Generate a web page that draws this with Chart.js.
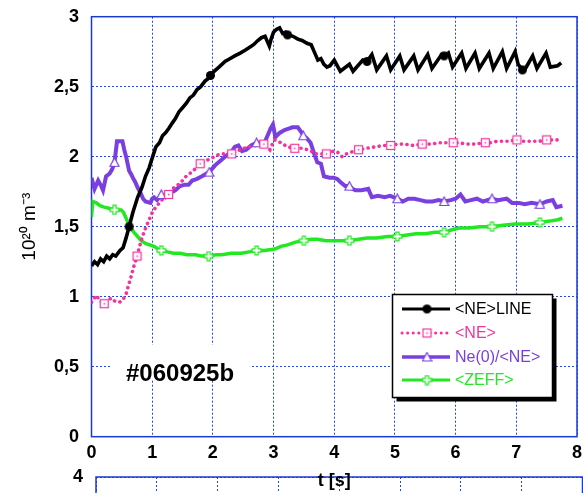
<!DOCTYPE html>
<html>
<head>
<meta charset="utf-8">
<script src="https://cdn.jsdelivr.net/npm/chart.js@4.4.1/dist/chart.umd.min.js"></script>
<style>
  html, body { margin: 0; padding: 0; background: #fff; }
  #wrap { position: relative; width: 583px; height: 493px; overflow: hidden; }
  #lower { position: absolute; left: 0; top: 460px; }
  #main { position: absolute; left: 0; top: 0; }
</style>
</head>
<body>
<div id="wrap">
  <canvas id="lower" width="583" height="120"></canvas>
  <canvas id="main" width="583" height="493"></canvas>
</div>
<script>
// --- data (time in s, density in 10^20 m^-3) ---
const neLineT = [0.00,0.05,0.10,0.15,0.20,0.25,0.30,0.35,0.40,0.47,0.52,0.57,0.62,0.68,0.76,0.83,0.89,0.95,1.00,1.06,
  1.12,1.17,1.22,1.27,1.33,1.38,1.44,1.50,1.56,1.62,1.68,1.74,1.80,1.87,1.93,1.96,2.02,2.10,2.20,2.28,
  2.36,2.45,2.53,2.60,2.67,2.74,2.80,2.86,2.90,2.93,2.96,3.00,3.05,3.10,3.15,3.20,3.25,3.32,3.40,3.47,
  3.55,3.62,3.68,3.73,3.78,3.83,3.88,3.93,4.00,4.10,4.25,4.31,4.47,4.54,4.62,4.70,4.86,4.93,5.08,5.15,
  5.31,5.38,5.54,5.61,5.77,5.82,5.88,5.95,6.10,6.17,6.32,6.39,6.55,6.62,6.77,6.84,6.98,7.03,7.10,7.15,
  7.27,7.34,7.49,7.56,7.68,7.74];
const neLineV = [1.22,1.25,1.23,1.27,1.25,1.29,1.27,1.30,1.29,1.33,1.35,1.42,1.50,1.60,1.71,1.78,1.86,1.92,1.99,2.07,
  2.10,2.15,2.17,2.20,2.24,2.27,2.32,2.35,2.38,2.42,2.44,2.48,2.50,2.54,2.56,2.58,2.61,2.64,2.68,2.70,
  2.72,2.74,2.76,2.78,2.80,2.83,2.85,2.86,2.82,2.79,2.84,2.89,2.91,2.92,2.88,2.89,2.87,2.86,2.84,2.83,
  2.81,2.80,2.74,2.69,2.70,2.66,2.64,2.65,2.69,2.61,2.66,2.61,2.69,2.68,2.73,2.62,2.72,2.62,2.72,2.62,
  2.72,2.62,2.73,2.63,2.73,2.72,2.74,2.64,2.74,2.63,2.74,2.63,2.74,2.63,2.75,2.63,2.75,2.66,2.62,2.63,
  2.72,2.63,2.74,2.64,2.65,2.67];
const neLineMarkT = [0.62, 1.96, 3.23, 4.54, 5.81, 7.10];
const neLineMarkV = [1.50, 2.58, 2.87, 2.68, 2.72, 2.62];

const neT = [0.00,0.08,0.14,0.21,0.27,0.32,0.38,0.46,0.52,0.57,0.61,0.65,0.70,0.75,0.80,0.84,0.90,0.95,1.00,1.06,
  1.12,1.20,1.27,1.36,1.46,1.56,1.68,1.79,1.88,1.98,2.06,2.15,2.31,2.45,2.58,2.72,2.84,2.90,2.94,2.98,
  3.02,3.12,3.23,3.35,3.46,3.56,3.62,3.67,3.78,3.87,3.99,4.06,4.13,4.20,4.26,4.40,4.53,4.67,4.80,4.93,
  5.05,5.16,5.30,5.45,5.60,5.73,5.85,5.96,6.06,6.16,6.32,6.49,6.58,6.68,6.85,7.01,7.12,7.25,7.38,7.50,
  7.62,7.74];
const neV = [0.96,1.01,0.97,0.95,0.97,0.99,0.97,0.96,0.98,1.02,1.08,1.14,1.22,1.29,1.37,1.43,1.50,1.55,1.60,1.64,
  1.67,1.71,1.73,1.78,1.81,1.86,1.90,1.95,1.97,1.99,2.01,2.02,2.02,2.05,2.07,2.08,2.09,2.07,2.05,2.09,
  2.12,2.10,2.07,2.06,2.06,2.05,2.04,2.02,2.02,2.02,2.04,2.03,2.00,2.02,2.03,2.05,2.06,2.07,2.08,2.08,
  2.09,2.09,2.08,2.09,2.09,2.10,2.10,2.10,2.10,2.09,2.09,2.10,2.10,2.11,2.11,2.12,2.11,2.11,2.11,2.12,
  2.12,2.12];
const neMarkT = [0.21,0.75,1.27,1.79,2.31,2.84,3.35,3.87,4.40,4.93,5.45,5.96,6.49,7.01,7.50];
const neMarkV = [0.95,1.29,1.73,1.95,2.02,2.09,2.06,2.02,2.05,2.08,2.09,2.10,2.10,2.12,2.12];

const peakT = [0.00,0.05,0.11,0.16,0.19,0.24,0.30,0.34,0.38,0.42,0.51,0.54,0.57,0.62,0.66,0.68,0.72,0.76,0.81,0.85,
  0.89,0.97,1.00,1.03,1.08,1.15,1.22,1.30,1.38,1.46,1.54,1.60,1.66,1.73,1.82,1.94,2.04,2.12,2.20,2.30,
  2.36,2.42,2.48,2.55,2.63,2.72,2.85,2.90,2.95,2.99,3.03,3.10,3.18,3.25,3.31,3.40,3.45,3.49,3.55,3.61,
  3.67,3.72,3.78,3.83,3.92,3.99,4.05,4.10,4.18,4.25,4.30,4.35,4.45,4.56,4.62,4.72,4.83,4.92,5.04,5.13,
  5.22,5.32,5.42,5.51,5.62,5.72,5.81,5.92,6.00,6.08,6.16,6.25,6.35,6.45,6.60,6.70,6.84,6.93,7.04,7.14,
  7.25,7.39,7.50,7.60,7.66,7.76];
const peakV = [1.85,1.77,1.83,1.79,1.76,1.86,1.88,1.91,1.96,2.11,2.11,2.05,2.00,1.90,1.87,1.85,1.82,1.78,1.74,1.70,
  1.68,1.67,1.70,1.71,1.69,1.73,1.71,1.74,1.76,1.79,1.80,1.80,1.83,1.84,1.86,1.89,1.94,1.97,2.00,2.03,
  2.07,2.08,2.04,2.05,2.08,2.10,2.10,2.15,2.20,2.23,2.14,2.17,2.19,2.20,2.21,2.21,2.18,2.15,2.13,2.10,
  2.02,1.96,1.95,1.86,1.85,1.85,1.84,1.82,1.79,1.79,1.77,1.76,1.76,1.77,1.71,1.72,1.71,1.72,1.70,1.68,
  1.70,1.70,1.69,1.68,1.68,1.69,1.68,1.69,1.70,1.73,1.68,1.69,1.70,1.68,1.70,1.69,1.70,1.67,1.67,1.66,
  1.67,1.66,1.68,1.69,1.64,1.65];
const peakMarkT = [0.38,1.15,1.94,2.72,3.49,4.25,5.04,5.81,6.60,7.39];
const peakMarkV = [1.96,1.73,1.89,2.10,2.15,1.79,1.70,1.68,1.70,1.66];

const zeffT = [0.00,0.02,0.08,0.14,0.21,0.30,0.38,0.49,0.53,0.57,0.61,0.65,0.70,0.76,0.82,0.89,0.96,1.03,1.10,1.16,
  1.25,1.35,1.46,1.57,1.71,1.82,1.93,2.05,2.15,2.30,2.47,2.60,2.72,2.85,3.02,3.12,3.23,3.36,3.50,3.62,
  3.72,3.86,4.02,4.14,4.25,4.40,4.54,4.70,4.88,5.04,5.20,5.35,5.50,5.66,5.81,5.95,6.06,6.22,6.40,6.60,
  6.78,6.98,7.20,7.39,7.55,7.68,7.76];
const zeffV = [1.57,1.68,1.67,1.65,1.64,1.63,1.62,1.62,1.60,1.56,1.52,1.49,1.46,1.43,1.40,1.38,1.37,1.36,1.34,1.33,
  1.32,1.31,1.31,1.30,1.30,1.29,1.29,1.30,1.30,1.31,1.31,1.32,1.33,1.33,1.34,1.36,1.37,1.39,1.40,1.41,
  1.41,1.40,1.40,1.40,1.40,1.41,1.42,1.42,1.43,1.43,1.44,1.45,1.45,1.46,1.46,1.48,1.49,1.49,1.50,1.50,
  1.51,1.52,1.52,1.53,1.54,1.55,1.56];
const zeffMarkT = [0.38,1.15,1.93,2.72,3.50,4.25,5.04,5.81,6.60,7.39];
const zeffMarkV = [1.62,1.33,1.29,1.33,1.40,1.40,1.43,1.46,1.50,1.53];

const seriesNames = ['<NE>LINE', '<NE>', 'Ne(0)/<NE>', '<ZEFF>'];
const seriesColors = ['#000000', '#f2359b', '#7a3fe0', '#22e822'];
const shotLabel = '#060925b';
const yTitle = '10\u00B2\u2070 m\u207B\u00B3';
const xTitle = 't [s]';

const FONT = '"Liberation Sans", Arial, Helvetica, sans-serif';
const GRID = '#2646e4';
const FRAME = '#1a3ad6';

function pts(ts, vs) { return ts.map((t, i) => ({ x: t, y: vs[i] })); }

// little marker images, shared by the plot and the legend
function marker(kind, color) {
  const c = document.createElement('canvas');
  c.width = 11; c.height = 11;
  const g = c.getContext('2d');
  g.lineWidth = 1.2; g.strokeStyle = color; g.fillStyle = '#fff';
  if (kind === 'circle') {
    g.fillStyle = color;
    g.beginPath(); g.arc(5.5, 5.5, 4.5, 0, Math.PI * 2); g.fill();
  } else if (kind === 'square') {
    g.fillRect(1.5, 1.5, 8, 8); g.strokeRect(1.5, 1.5, 8, 8);
    g.fillStyle = color; g.fillRect(4.8, 4.8, 1.5, 1.5);
  } else if (kind === 'triangle') {
    g.beginPath(); g.moveTo(5.5, 1); g.lineTo(10, 9.5); g.lineTo(1, 9.5); g.closePath();
    g.fill(); g.stroke();
  } else {
    g.beginPath();
    const a = 1.6, b = 4.4, m = 5.5;
    g.moveTo(m - a, m - b); g.lineTo(m + a, m - b); g.lineTo(m + a, m - a); g.lineTo(m + b, m - a);
    g.lineTo(m + b, m + a); g.lineTo(m + a, m + a); g.lineTo(m + a, m + b); g.lineTo(m - a, m + b);
    g.lineTo(m - a, m + a); g.lineTo(m - b, m + a); g.lineTo(m - b, m - a); g.lineTo(m - a, m - a);
    g.closePath(); g.fill(); g.stroke();
  }
  return c;
}
const markers = [
  marker('circle', seriesColors[0]),
  marker('square', seriesColors[1]),
  marker('triangle', seriesColors[2]),
  marker('plus', seriesColors[3])
];

function lineSet(ts, vs, i, extra) {
  return Object.assign({
    data: pts(ts, vs),
    borderColor: seriesColors[i],
    borderWidth: 3,
    pointRadius: 0,
    tension: 0,
    fill: false
  }, extra || {});
}
function markSet(ts, vs, i) {
  return {
    data: pts(ts, vs),
    showLine: false,
    pointStyle: markers[i],
    pointRadius: 5,
    borderColor: seriesColors[i],
    backgroundColor: seriesColors[i]
  };
}

// frame, shot label box and legend
const decorations = {
  id: 'decorations',
  beforeDatasetsDraw(chart) {
    const { ctx, chartArea: a } = chart;
    ctx.save();
    // white patch behind the shot number
    ctx.fillStyle = '#fff';
    ctx.fillRect(110, 345, 142, 35);
    ctx.fillStyle = '#000';
    ctx.font = 'bold 24px ' + FONT;
    ctx.textAlign = 'left';
    ctx.textBaseline = 'middle';
    ctx.fillText(shotLabel, 126, 374);
    ctx.strokeStyle = FRAME;
    ctx.lineWidth = 1.5;
    ctx.strokeRect(a.left, a.top, a.right - a.left, a.bottom - a.top);
    ctx.restore();
  },
  afterDatasetsDraw(chart) {
    const ctx = chart.ctx;
    const bx = 392.5, by = 294.5, bw = 160, bh = 103;
    ctx.save();
    ctx.fillStyle = '#000';
    ctx.fillRect(bx + 4, by + 4, bw, bh);
    ctx.fillStyle = '#fff';
    ctx.fillRect(bx, by, bw, bh);
    ctx.strokeStyle = '#000';
    ctx.lineWidth = 1.5;
    ctx.strokeRect(bx, by, bw, bh);
    ctx.font = '16px ' + FONT;
    ctx.textBaseline = 'middle';
    ctx.textAlign = 'left';
    const rows = [309, 333, 357, 380];
    seriesNames.forEach((name, i) => {
      const y = rows[i];
      ctx.strokeStyle = seriesColors[i];
      ctx.lineWidth = i === 2 ? 3.5 : 3;
      ctx.lineCap = i === 1 ? 'round' : 'butt';
      ctx.setLineDash(i === 1 ? [0.1, 5.5] : []);
      ctx.beginPath(); ctx.moveTo(402, y); ctx.lineTo(450, y); ctx.stroke();
      ctx.setLineDash([]);
      ctx.drawImage(markers[i], 427 - 5.5, y - 5.5);
      ctx.fillStyle = seriesColors[i];
      ctx.fillText(name, 455, y + 1);
    });
    ctx.restore();
  }
};

new Chart(document.getElementById('main'), {
  type: 'line',
  data: {
    datasets: [
      markSet(neLineMarkT, neLineMarkV, 0),
      markSet(neMarkT, neMarkV, 1),
      markSet(peakMarkT, peakMarkV, 2),
      markSet(zeffMarkT, zeffMarkV, 3),
      lineSet(neLineT, neLineV, 0, { borderWidth: 3.6 }),
      lineSet(neT, neV, 1, { borderWidth: 3.6, borderDash: [0.1, 5.5], borderCapStyle: 'round' }),
      lineSet(peakT, peakV, 2, { borderWidth: 4 }),
      lineSet(zeffT, zeffV, 3, { borderWidth: 3.5 })
    ]
  },
  options: {
    responsive: false,
    animation: false,
    layout: { padding: { top: 16.7, right: 0, bottom: 0, left: 0 } },
    plugins: { legend: { display: false }, tooltip: { enabled: false } },
    scales: {
      x: {
        type: 'linear',
        min: 0, max: 8,
        ticks: { stepSize: 1, padding: 5.5, color: '#000', font: { family: FONT, size: 18, weight: 'bold' } },
        grid: { color: GRID, lineWidth: 1, drawTicks: false },
        border: { display: false, dash: [2, 2] },
        title: { display: true, text: xTitle, color: '#000', padding: { top: 0, bottom: 1 },
                 font: { family: FONT, size: 18, weight: 'bold' } },
        afterFit(s) { s.height = 56.3; s.paddingLeft = 0; s.paddingRight = 0; }
      },
      y: {
        min: 0, max: 3,
        ticks: { stepSize: 0.5, padding: 12.5, color: '#000',
                 font: { family: FONT, size: 18, weight: 'bold' },
                 callback: v => String(v).replace('.', ',') },
        grid: { color: GRID, lineWidth: 1, drawTicks: false },
        border: { display: false, dash: [2, 2] },
        title: { display: true, text: yTitle, color: '#000', padding: { top: 18, bottom: 0 },
                 font: { family: FONT, size: 19 } },
        afterFit(s) { s.width = 91.5; s.paddingTop = 0; s.paddingBottom = 0; }
      }
    }
  },
  plugins: [decorations]
});

// the next panel below, mostly out of the window
const lowerFrame = {
  id: 'lowerFrame',
  beforeDatasetsDraw(chart) {
    const { ctx, chartArea: a } = chart;
    ctx.save();
    ctx.strokeStyle = FRAME;
    ctx.lineWidth = 1.5;
    ctx.strokeRect(a.left, a.top, a.right - a.left, a.bottom - a.top);
    ctx.restore();
  }
};
new Chart(document.getElementById('lower'), {
  type: 'line',
  data: { datasets: [] },
  options: {
    responsive: false,
    animation: false,
    layout: { padding: { top: 17, right: 0.5, bottom: 0, left: 0 } },
    plugins: { legend: { display: false }, tooltip: { enabled: false } },
    scales: {
      x: {
        type: 'linear', min: 0, max: 8,
        ticks: { display: false, stepSize: 1 },
        grid: { color: GRID, lineWidth: 1, drawTicks: false },
        border: { display: false, dash: [2, 2] },
        afterFit(s) { s.height = 0; s.paddingLeft = 0; s.paddingRight = 0; }
      },
      y: {
        min: 0, max: 4,
        ticks: { stepSize: 1, padding: 13, color: '#000', font: { family: FONT, size: 18, weight: 'bold' } },
        grid: { color: GRID, lineWidth: 1, drawTicks: false },
        border: { display: false, dash: [2, 2] },
        afterFit(s) { s.width = 96; s.paddingTop = 0; s.paddingBottom = 0; }
      }
    }
  },
  plugins: [lowerFrame]
});
</script>
</body>
</html>
